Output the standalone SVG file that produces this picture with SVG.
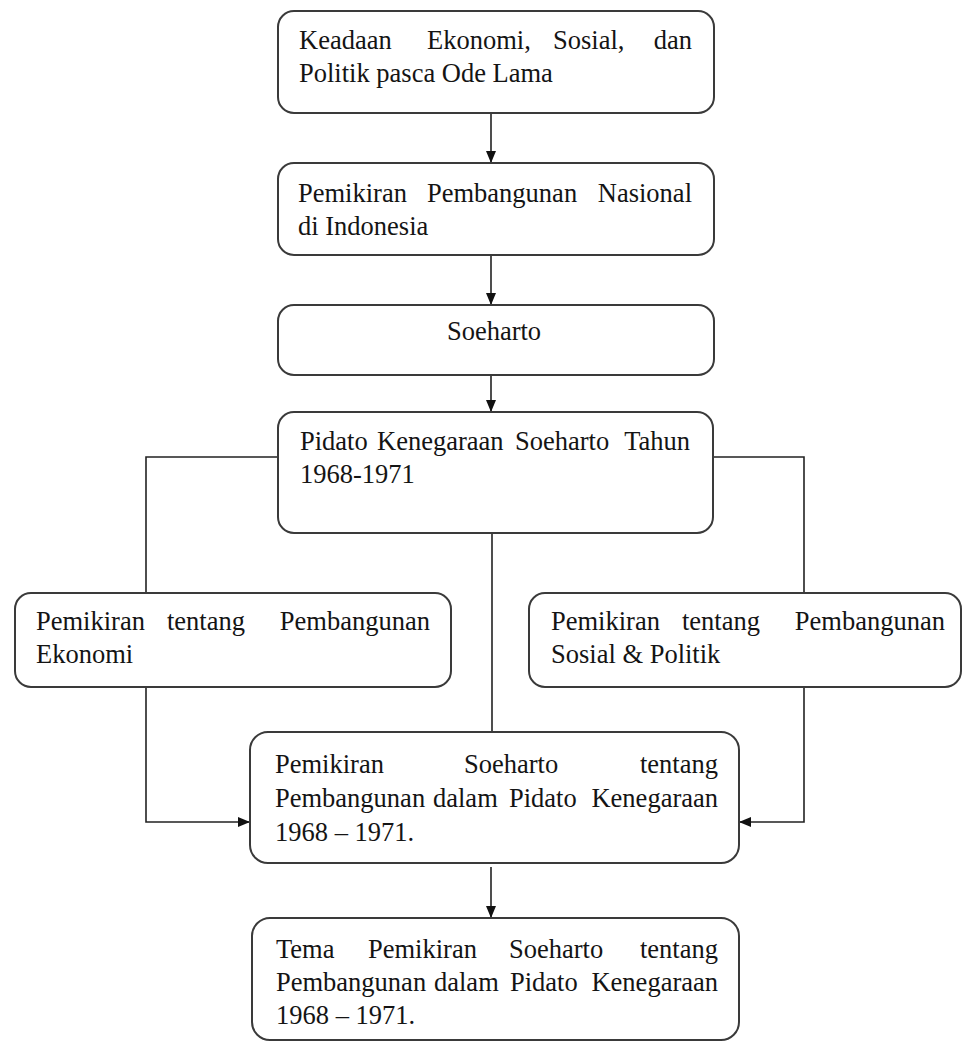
<svg xmlns="http://www.w3.org/2000/svg" width="962" height="1042" viewBox="0 0 962 1042">
<defs>
<style>
.box{fill:#fff;stroke:#3a3a3a;stroke-width:2}
.t{font-family:"Liberation Serif","Times New Roman",serif;font-size:26.5px;fill:#141414}
.e{text-anchor:end}
.m{text-anchor:middle}
.c{fill:none;stroke:#222;stroke-width:1.6}
</style>
<marker id="ah" viewBox="0 0 12 12" refX="12" refY="6" markerWidth="12" markerHeight="12" markerUnits="userSpaceOnUse" orient="auto">
<path d="M0,1 L12,6 L0,11 Z" fill="#111"/>
</marker>
</defs>
<rect width="962" height="1042" fill="#fff"/>
<g id="connectors">
<path class="c" d="M491,113 V163" marker-end="url(#ah)"/>
<path class="c" d="M491,255 V305" marker-end="url(#ah)"/>
<path class="c" d="M491,362 V412" marker-end="url(#ah)"/>
<path class="c" d="M278,457 H146 V593"/>
<path class="c" d="M713,457 H804 V593"/>
<path class="c" d="M492,533 V732"/>
<path class="c" d="M146,687 V822 H250" marker-end="url(#ah)"/>
<path class="c" d="M804,687 V822 H739" marker-end="url(#ah)"/>
<path class="c" d="M491,867 V918" marker-end="url(#ah)"/>
</g>
<g id="n1">
<rect class="box" x="278" y="11" width="436" height="102" rx="16"/>
<text class="t" x="299" y="49">Keadaan</text>
<text class="t" x="427" y="49">Ekonomi,</text>
<text class="t" x="553" y="49">Sosial,</text>
<text class="t e" x="692" y="49">dan</text>
<text class="t" x="299" y="82">Politik pasca Ode Lama</text>
</g>
<g id="n2">
<rect class="box" x="278" y="163" width="436" height="92" rx="16"/>
<text class="t" x="298" y="202">Pemikiran</text>
<text class="t" x="427" y="202">Pembangunan</text>
<text class="t e" x="692" y="202">Nasional</text>
<text class="t" x="298" y="235">di Indonesia</text>
</g>
<g id="n3">
<rect class="box" x="278" y="305" width="436" height="70" rx="16"/>
<text class="t m" x="494" y="340">Soeharto</text>
</g>
<g id="n4">
<rect class="box" x="278" y="412" width="435" height="121" rx="16"/>
<text class="t" x="300" y="450">Pidato</text>
<text class="t" x="377" y="450">Kenegaraan</text>
<text class="t" x="515" y="450">Soeharto</text>
<text class="t e" x="690" y="450">Tahun</text>
<text class="t" x="300" y="483">1968-1971</text>
</g>
<g id="n5">
<rect class="box" x="15" y="593" width="436" height="94" rx="16"/>
<text class="t" x="36" y="630">Pemikiran</text>
<text class="t" x="167" y="630">tentang</text>
<text class="t e" x="430" y="630">Pembangunan</text>
<text class="t" x="36" y="663">Ekonomi</text>
</g>
<g id="n6">
<rect class="box" x="529" y="593" width="432" height="94" rx="16"/>
<text class="t" x="551" y="630">Pemikiran</text>
<text class="t" x="682" y="630">tentang</text>
<text class="t e" x="945" y="630">Pembangunan</text>
<text class="t" x="551" y="663">Sosial &amp; Politik</text>
</g>
<g id="n7">
<rect class="box" x="250" y="732" width="489" height="131" rx="18"/>
<text class="t" x="275" y="773">Pemikiran</text>
<text class="t" x="464" y="773">Soeharto</text>
<text class="t e" x="718" y="773">tentang</text>
<text class="t" x="275" y="807">Pembangunan</text>
<text class="t" x="433" y="807">dalam</text>
<text class="t" x="509" y="807">Pidato</text>
<text class="t e" x="718" y="807">Kenegaraan</text>
<text class="t" x="275" y="841">1968 – 1971.</text>
</g>
<g id="n8">
<rect class="box" x="252" y="918" width="487" height="122" rx="18"/>
<text class="t" x="276" y="958">Tema</text>
<text class="t" x="368" y="958">Pemikiran</text>
<text class="t" x="509" y="958">Soeharto</text>
<text class="t e" x="718" y="958">tentang</text>
<text class="t" x="276" y="991">Pembangunan</text>
<text class="t" x="434" y="991">dalam</text>
<text class="t" x="510" y="991">Pidato</text>
<text class="t e" x="718" y="991">Kenegaraan</text>
<text class="t" x="276" y="1024">1968 – 1971.</text>
</g>
</svg>
